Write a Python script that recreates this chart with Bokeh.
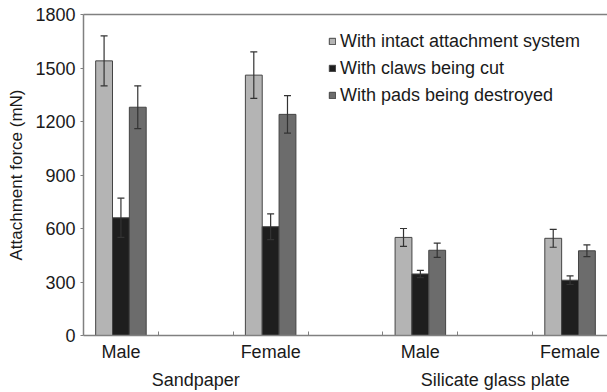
from bokeh.plotting import figure
from bokeh.models import (ColumnDataSource, Whisker, FixedTicker, LinearAxis, Range1d,
                          Legend, LegendItem, TeeHead)
from bokeh.embed import file_html
from bokeh.resources import INLINE

# ---- data ----
surfaces = ["Sandpaper", "Silicate glass plate"]
sexes = ["Male", "Female", "Male", "Female"]
series = ["With intact attachment system", "With claws being cut", "With pads being destroyed"]
intact = [1540, 1460, 550, 545]
intact_err = [140, 130, 50, 50]
claws = [660, 610, 345, 310]
claws_err = [110, 72, 20, 24]
pads = [1280, 1240, 478, 475]
pads_err = [120, 105, 40, 33]
y_ticks = [0, 300, 600, 900, 1200, 1500, 1800]

# ---- styles ----
FONT = "Liberation Sans"
FS = "18px"
FSY = "17px"
TXT = "#1a1a1a"
AX = "#808080"
colors = ["#b4b4b4", "#1e1e1e", "#6c6c6c"]
bw = 0.225
offsets = [-bw, 0.0, bw]

xc = [2 * i for i in range(len(sexes))]  # category centres, empty slot between groups

p = figure(width=607, height=392, output_backend="svg", toolbar_location=None,
           x_range=Range1d(-0.5, 6.5), y_range=Range1d(0, 1800),
           min_border_left=83, min_border_right=0, min_border_top=14, min_border_bottom=57,
           frame_width=524, frame_height=321, x_axis_type=None, y_axis_type=None)
p.outline_line_color = None
p.xgrid.visible = False
p.ygrid.visible = False
p.background_fill_color = "white"
p.border_fill_color = "white"

vals = [intact, claws, pads]
errs = [intact_err, claws_err, pads_err]
items = []
for k in range(3):
    src = ColumnDataSource(dict(
        x=[c + offsets[k] for c in xc],
        top=vals[k],
        upper=[v + e for v, e in zip(vals[k], errs[k])],
        lower=[v - e for v, e in zip(vals[k], errs[k])],
    ))
    r = p.vbar(x="x", top="top", width=bw, bottom=0, source=src,
               fill_color=colors[k], line_color="#444444", line_width=1)
    w = Whisker(base="x", upper="upper", lower="lower", source=src, level="overlay",
                line_color="#333333", line_width=1.2,
                upper_head=TeeHead(size=7, line_color="#333333", line_width=1.2),
                lower_head=TeeHead(size=7, line_color="#333333", line_width=1.2))
    p.add_layout(w)
    items.append(LegendItem(label=series[k], renderers=[r]))

# y axis
yax = LinearAxis(ticker=FixedTicker(ticks=y_ticks), axis_label="Attachment force (mN)")
yax.axis_line_color = AX
yax.axis_line_width = 1.5
yax.major_tick_line_color = AX
yax.major_tick_out = 3
yax.major_tick_in = 0
yax.minor_tick_line_color = None
yax.major_label_text_font = FONT
yax.major_label_text_font_size = FS
yax.major_label_text_color = TXT
yax.major_label_standoff = 5
yax.axis_label_text_font = FONT
yax.axis_label_text_font_size = FSY
yax.axis_label_text_font_style = "normal"
yax.axis_label_text_color = TXT
yax.axis_label_standoff = 6
p.add_layout(yax, "left")

# x axis: sex labels
xax = LinearAxis(ticker=FixedTicker(ticks=xc, minor_ticks=[0.5 + i for i in range(6)]))
xax.major_label_overrides = {c: s for c, s in zip(xc, sexes)}
xax.axis_line_color = AX
xax.axis_line_width = 1.5
xax.major_tick_line_color = None
xax.major_tick_in = 0
xax.major_tick_out = 0
xax.minor_tick_line_color = AX
xax.minor_tick_in = 4
xax.minor_tick_out = 0
xax.major_label_text_font = FONT
xax.major_label_text_font_size = FS
xax.major_label_text_color = TXT
xax.major_label_standoff = 6
p.add_layout(xax, "below")

# x axis: surface labels
gpos = [(xc[2 * g] + xc[2 * g + 1]) // 2 for g in range(len(surfaces))]
gax = LinearAxis(ticker=FixedTicker(ticks=gpos, minor_ticks=[]))
gax.major_label_overrides = {c: s for c, s in zip(gpos, surfaces)}
gax.axis_line_color = None
gax.major_tick_line_color = None
gax.minor_tick_line_color = None
gax.major_tick_in = 0
gax.major_tick_out = 0
gax.major_label_text_font = FONT
gax.major_label_text_font_size = FS
gax.major_label_text_color = TXT
gax.major_label_standoff = 5
p.add_layout(gax, "below")

# top frame line
tax = LinearAxis(ticker=FixedTicker(ticks=[]))
tax.axis_line_color = AX
tax.axis_line_width = 1.5
tax.major_tick_line_color = None
tax.minor_tick_line_color = None
tax.major_label_text_font_size = "0px"
tax.major_label_standoff = 0
tax.major_tick_in = 0
tax.major_tick_out = 0
p.add_layout(tax, "above")

legend = Legend(items=items, location=(245, 228), orientation="vertical")
legend.border_line_color = None
legend.background_fill_alpha = 0
legend.padding = 0
legend.margin = 0
legend.spacing = 3
legend.label_height = 24
legend.glyph_width = 8
legend.glyph_height = 8
legend.label_standoff = 4
legend.label_text_font = FONT
legend.label_text_font_size = FS
legend.label_text_color = TXT
p.add_layout(legend)

open("out.html", "w").write(file_html(p, INLINE))
